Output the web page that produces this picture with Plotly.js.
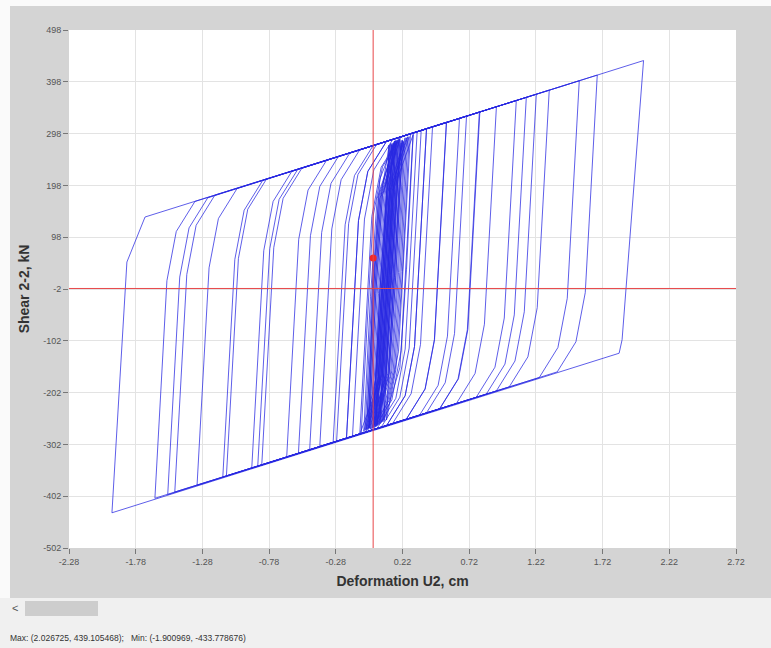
<!DOCTYPE html>
<html>
<head>
<meta charset="utf-8">
<script src="https://cdn.plot.ly/plotly-3.0.1.min.js"></script>
<style>
html,body{margin:0;padding:0;background:#fafafa;width:771px;height:648px;overflow:hidden;font-family:"Liberation Sans",Arial,sans-serif;}
#chart{position:absolute;left:10px;top:6px;width:761px;height:592px;}
#bottom{position:absolute;left:0;top:598px;width:771px;height:50px;background:#f0f0f0;}
#arrow{position:absolute;left:12px;top:4px;font-size:11px;line-height:13px;color:#555;}
#thumb{position:absolute;left:25px;top:3px;width:73px;height:15px;background:#cdcdcd;}
#stats{position:absolute;left:10px;top:35px;font-size:8.5px;line-height:10px;color:#333;white-space:pre;}
</style>
</head>
<body>
<div id="chart"></div>
<div id="bottom">
  <div id="arrow">&lt;</div>
  <div id="thumb"></div>
  <div id="stats">Max: (2.026725, 439.105468);   Min: (-1.900969, -433.778676)</div>
</div>
<script>
// Tick labels (as shown on the axes)
var xTickVals = [-2.28, -1.78, -1.28, -0.78, -0.28, 0.22, 0.72, 1.22, 1.72, 2.22, 2.72];
var xTickText = ["-2.28", "-1.78", "-1.28", "-0.78", "-0.28", "0.22", "0.72", "1.22", "1.72", "2.22", "2.72"];
var yTickVals = [498, 398, 298, 198, 98, -2, -102, -202, -302, -402, -502];
var yTickText = ["498", "398", "298", "198", "98", "-2", "-102", "-202", "-302", "-402", "-502"];

// Hysteresis path: Deformation U2 (cm) and Shear 2-2 (kN)
var defX = [
 0.00, 0.05, 0.16, 0.11, 0.06, 0.00, 0.05, 0.10, 0.18, 0.13,
 0.08, 0.03, 0.08, 0.13, 0.17, 0.12, 0.07, -0.04, 0.01, 0.06,
 0.12, 0.07, 0.02, -0.03, 0.02, 0.07, 0.20, 0.15, 0.10, 0.05,
 0.10, 0.15, 0.22, 0.17, 0.12, 0.02, 0.07, 0.12, 0.15, 0.10,
 0.05, -0.05, 0.00, 0.05, 0.16, 0.11, 0.06, 0.01, 0.06, 0.11,
 0.24, 0.19, 0.14, 0.06, 0.11, 0.16, 0.19, 0.14, 0.09, -0.01,
 0.04, 0.09, 0.13, 0.08, 0.03, 0.02, 0.07, 0.12, 0.26, 0.21,
 0.16, 0.08, 0.13, 0.18, 0.21, 0.16, 0.11, 0.00, 0.05, 0.10,
 0.14, 0.09, 0.04, -0.06, -0.01, 0.04, 0.17, 0.12, 0.07, -0.10,
 -0.01, 0.06, 0.20, 0.33, 0.24, 0.17, 0.03, -0.20, -0.11, -0.04,
 0.10, 0.40, 0.31, 0.24, 0.10, -0.30, -0.21, -0.14, 0.00, 0.55,
 0.46, 0.39, 0.25, -0.40, -0.31, -0.24, -0.10, 0.80, 0.71, 0.64,
 0.50, -0.648, -0.558, -0.488, -0.348, 1.073, 0.983, 0.913, 0.773, -0.91,
 -0.82, -0.75, -0.61, 1.32, 1.23, 1.16, 1.02, -1.127, -1.037, -0.967,
 -0.827, 1.545, 1.455, 1.385, 1.245, -1.487, -1.397, -1.327, -1.187, 2.027,
 1.866, 1.844, -1.958, -1.846, -1.71, 1.68, 1.59, 1.52, 1.38, -1.636,
 -1.546, -1.476, -1.336, 1.223, 1.133, 1.063, 0.923, -1.54, -1.45, -1.38,
 -1.24, 1.148, 1.058, 0.988, 0.848, -1.32, -1.23, -1.16, -1.02, 0.924,
 0.834, 0.764, 0.624, -1.10, -1.01, -0.94, -0.80, 0.796, 0.706, 0.636,
 0.496, -0.865, -0.775, -0.705, -0.565, 0.647, 0.557, 0.487, 0.347, -0.835,
 -0.745, -0.675, -0.535, 0.70, 0.61, 0.54, 0.40, -0.476, -0.386, -0.316,
 -0.176, 0.549, 0.459, 0.389, 0.249, -0.56, -0.47, -0.40, -0.26, 0.445,
 0.355, 0.285, 0.145, -0.274, -0.184, -0.114, 0.026, 0.40, 0.31, 0.24,
 0.10, -0.20, -0.11, -0.04, 0.10, 0.36, 0.27, 0.20, 0.06, -0.155,
 -0.065, 0.005, 0.145, 0.30, 0.21, 0.14, 0.00, -0.09, 0.00, 0.07,
 0.21, 0.28, 0.19, 0.12, -0.02, -0.05, 0.00, 0.05, 0.18, 0.13,
 0.08, 0.03, 0.08, 0.13, 0.25, 0.20, 0.15, 0.07, 0.12, 0.17,
 0.22, 0.17, 0.12, 0.01, 0.06, 0.11, 0.16, 0.11, 0.06, -0.02,
 0.03, 0.08, 0.14, 0.09, 0.04, -0.04, 0.01, 0.06, 0.19, 0.14,
 0.09, 0.04, 0.09, 0.14, 0.27, 0.22, 0.17, 0.10, 0.15, 0.20,
 0.23, 0.18, 0.13, 0.02, 0.07, 0.12, 0.15, 0.10, 0.05, -0.03,
 0.02, 0.07, 0.20, 0.15, 0.10, 0.00, 0.05, 0.10, 0.12, 0.07,
 0.02, -0.07, -0.02, 0.03, 0.17, 0.12, 0.07, 0.05, 0.10, 0.15,
 0.30, 0.25, 0.20, 0.08, 0.13, 0.18, 0.21, 0.16, 0.11, -0.03,
 0.00
];
var shearY = [
 0, 210, 283, 23, -167, -268, -8, 182, 286, 26,
 -164, -266, -6, 184, 280, 20, -170, -272, -12, 178,
 276, 16, -174, -270, -10, 180, 288, 28, -162, -262,
 -2, 188, 285, 25, -165, -268, -8, 182, 278, 18,
 -172, -273, -13, 177, 284, 24, -166, -265, -5, 185,
 290, 30, -160, -260, 0, 190, 282, 22, -168, -271,
 -11, 179, 279, 19, -171, -266, -6, 184, 292, 32,
 -158, -255, 5, 195, 280, 20, -170, -270, -10, 180,
 276, 16, -174, -275, -15, 175, 285, 25, -165, -282,
 138, 233, 291, 302, -118, -213, -271, -290, 130, 225,
 283, 307, -113, -208, -266, -298, 122, 217, 275, 320,
 -100, -195, -253, -306, 114, 209, 267, 340, -80, -175,
 -233, -326, 94, 189, 247, 362, -58, -153, -211, -348,
 72, 167, 225, 382, -38, -133, -191, -365, 55, 150,
 208, 400, -20, -115, -173, -394, 26, 121, 179, 439,
 -100, -126, -434, 50, 137, 411, -9, -104, -162, -406,
 14, 109, 167, 374, -46, -141, -199, -399, 21, 116,
 174, 368, -52, -147, -205, -381, 39, 134, 192, 350,
 -70, -165, -223, -363, 57, 152, 210, 339, -81, -176,
 -234, -344, 76, 171, 229, 327, -93, -188, -246, -342,
 78, 173, 231, 332, -88, -183, -241, -313, 107, 202,
 260, 320, -100, -195, -253, -319, 101, 196, 254, 311,
 -109, -204, -262, -296, 124, 219, 277, 307, -113, -208,
 -266, -290, 130, 225, 283, 304, -116, -211, -269, -287,
 133, 228, 286, 299, -121, -216, -274, -281, 139, 234,
 292, 298, -122, -217, -276, -278, -18, 172, 284, 24,
 -166, -265, -5, 185, 290, 30, -160, -258, 2, 192,
 284, 24, -166, -268, -8, 182, 282, 22, -168, -272,
 -12, 178, 279, 19, -171, -274, -14, 176, 286, 26,
 -164, -264, -4, 186, 292, 32, -158, -255, 5, 195,
 283, 23, -167, -267, -7, 183, 280, 20, -170, -271,
 -11, 179, 287, 27, -163, -269, -9, 181, 275, 15,
 -175, -277, -17, 173, 284, 24, -166, -262, -2, 188,
 296, 36, -154, -258, 2, 192, 285, 25, -165, -271,
 58
];

// Current point (red dot) and crosshair position
var pointX = [0.00];
var pointY = [58];
var crossX = 0;
var crossY = -1;

var tickFont = {family: 'Liberation Sans, Arial, sans-serif', size: 9, color: '#555'};
var titleFont = {family: 'Liberation Sans, Arial, sans-serif', size: 14, color: '#333', weight: 'bold'};

var traces = [
  {x: defX, y: shearY, type: 'scatter', mode: 'lines',
   line: {color: 'rgba(40,40,225,0.75)', width: 1}, hoverinfo: 'skip'},
  {x: pointX, y: pointY, type: 'scatter', mode: 'markers',
   marker: {color: '#f02828', size: 7}, hoverinfo: 'skip'}
];

var layout = {
  width: 761, height: 592,
  paper_bgcolor: '#d4d4d4', plot_bgcolor: '#ffffff',
  margin: {l: 59, r: 35, t: 24, b: 50},
  showlegend: false,
  xaxis: {
    range: [-2.28, 2.72], tickmode: 'array', tickvals: xTickVals, ticktext: xTickText,
    ticks: 'outside', ticklen: 5, tickcolor: '#777', tickfont: tickFont,
    showgrid: true, gridcolor: '#e3e3e3', zeroline: false, showline: false,
    title: {text: 'Deformation U2, cm', font: titleFont, standoff: 10}
  },
  yaxis: {
    range: [-502, 498], tickmode: 'array', tickvals: yTickVals, ticktext: yTickText,
    ticks: 'outside', ticklen: 5, tickcolor: '#777', tickfont: tickFont,
    showgrid: true, gridcolor: '#e3e3e3', zeroline: false, showline: false,
    title: {text: 'Shear 2-2, kN', font: titleFont, standoff: 10}
  },
  shapes: [
    {type: 'line', xref: 'x', yref: 'paper', x0: crossX, x1: crossX, y0: 0, y1: 1,
     line: {color: '#e8474a', width: 1}},
    {type: 'line', xref: 'paper', yref: 'y', x0: 0, x1: 1, y0: crossY, y1: crossY,
     line: {color: '#e8474a', width: 1}}
  ]
};

Plotly.newPlot('chart', traces, layout, {displayModeBar: false, staticPlot: true});
</script>
</body>
</html>
